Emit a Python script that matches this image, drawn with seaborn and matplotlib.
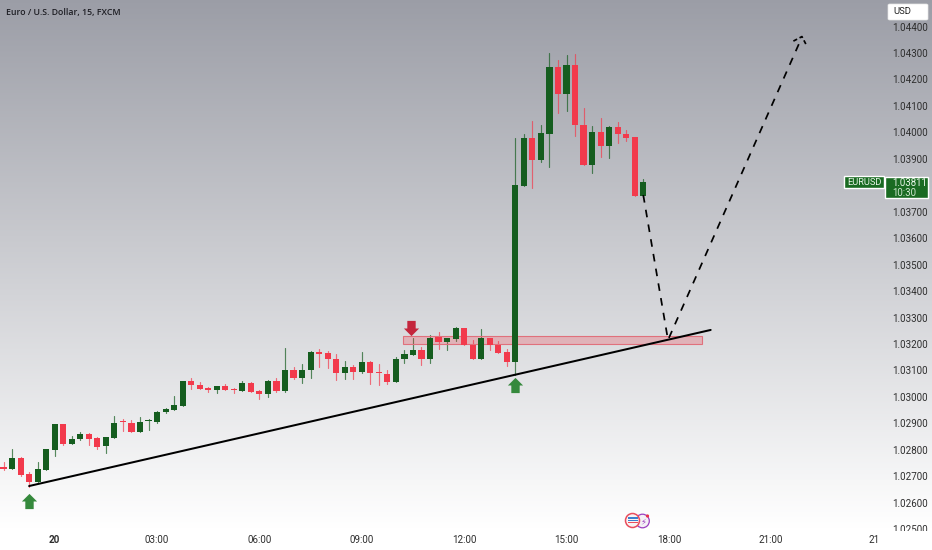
import numpy as np
import pandas as pd
import matplotlib
matplotlib.use("Agg")
import matplotlib.pyplot as plt
from matplotlib.path import Path
from matplotlib.patches import Rectangle, FancyBboxPatch, Circle
from matplotlib.transforms import Bbox
import seaborn as sns

W, H = 932, 550

title = "Euro / U.S. Dollar, 15, FXCM"
x_tick_pos = [0, 12, 24, 36, 48, 60, 72, 84, 96]
x_tick_labels = ["20", "03:00", "06:00", "09:00", "12:00", "15:00", "18:00", "21:00", "21"]
y_ticks = [1.025 + 0.001 * k for k in range(20)]

first_bar = -6
opens = [102736,102728,102770,102709,102677,102724,102799,102896,102823,102840,102861,102845,102813,102845,
         102910,102901,102868,102909,102904,102942,102952,102966,103059,103045,103033,103025,103041,103030,
         103024,103054,103022,103011,103061,103021,103102,103073,103101,103169,103165,103144,103089,103113,
         103094,103132,103093,103088,103056,103142,103158,103177,103144,103226,103209,103220,103259,103197,
         103144,103222,103197,103169,103132,103798,103978,103896,103995,104246,104145,104253,104028,103877,
         104001,103950,104020,103995,103981,103761]
highs = [102754,102802,102773,102716,102754,102803,102898,102898,102851,102868,102864,102850,102848,102928,
         102915,102913,102923,102916,102948,102958,103003,103060,103070,103055,103037,103041,103049,103035,
         103061,103056,103026,103064,103073,103184,103114,103123,103174,103181,103174,103162,103136,103120,
         103170,103134,103123,103102,103152,103176,103221,103187,103233,103244,103224,103263,103260,103215,
         103257,103224,103212,103182,103980,103995,104043,104028,104299,104274,104292,104296,104091,104025,
         104055,104024,104038,104009,103983,103822]
lows = [102724,102726,102701,102661,102677,102724,102778,102818,102822,102837,102818,102804,102789,102845,
        102871,102867,102867,102875,102903,102939,102950,102966,103030,103028,103020,103014,103026,103016,
        103022,103017,102993,103001,103020,103020,103067,103054,103073,103112,103108,103064,103068,103069,
        103092,103050,103046,103050,103055,103129,103157,103122,103129,103181,103177,103212,103195,103143,
        103143,103177,103166,103117,103083,103797,103791,103888,103870,104072,104082,103987,103875,103847,
        103908,103904,103959,103967,103759,103756]
closes = [102728,102770,102705,102677,102726,102803,102896,102822,102841,102860,102842,102812,102847,102902,
          102906,102868,102906,102912,102944,102954,102968,103059,103044,103030,103025,103040,103027,103025,
          103054,103019,103011,103061,103022,103102,103072,103102,103170,103162,103142,103089,103113,103094,
          103132,103089,103089,103056,103144,103161,103176,103144,103224,103209,103222,103259,103197,103144,
          103222,103197,103167,103132,103801,103978,103896,103996,104246,104145,104253,104027,103877,104001,
          103950,104020,103995,103980,103761,103811]

trend_x = [-3.0, 76.9]
trend_y = [1.02663, 1.03253]
path_x = [69.0, 71.9, 87.6]
path_y = [1.03763, 1.03215, 1.04360]
head_x = [86.6, 87.6, 88.2]
head_y = [1.04345, 1.04362, 1.04325]
zone_x = [40.8, 75.9]
zone_y = [1.03200, 1.03230]
up_x = [-3.0, 54.0]
up_y = [1.02605, 1.03045]
down_x = [41.8]
down_y = [1.03262]
last_price = "1.03811"
countdown = "10:30"

GREEN = "#155d1f"
RED = "#f23a4c"
LABEL_GREEN = "#1a6b22"
BG_TOP = "#9b9da6"
BG_BOTTOM = "#ffffff"

sns.set_theme(style="white")
plt.rcParams["font.family"] = ["Roboto", "DejaVu Sans"]

fig = plt.figure(figsize=(W / 100, H / 100), dpi=100)

# background gradient over the whole picture, as one-pixel bands
bg = fig.add_axes([0, 0, 1, 1], zorder=0)
bg.set_xlim(0, W)
bg.set_ylim(H, 0)
c_top = np.array(matplotlib.colors.to_rgb(BG_TOP))
c_bot = np.array(matplotlib.colors.to_rgb(BG_BOTTOM))
for row in range(H):
    f = min(row / 530, 1.0)
    bg.axhspan(row, row + 1, facecolor=tuple(c_top * (1 - f) + c_bot * f), edgecolor="none",
               linewidth=0, antialiased=False)
bg.axis("off")

ax = fig.add_axes([0, (H - 531) / H, 885 / W, 531 / H], zorder=1)
ax.patch.set_visible(False)

df = pd.DataFrame({"i": np.arange(len(opens)) + first_bar, "o": opens, "h": highs, "l": lows, "c": closes})
df[["o", "h", "l", "c"]] = df[["o", "h", "l", "c"]] / 1e5
df["up"] = df["c"] >= df["o"]
df["bot"] = df[["o", "c"]].min(axis=1)
df["size"] = (df["c"] - df["o"]).abs()

for up, col in [(True, GREEN), (False, RED)]:
    part = df[df["up"] == up]
    wick = pd.concat([part[["i", "h"]].rename(columns={"h": "p"}),
                      part[["i", "l"]].rename(columns={"l": "p"})])
    sns.lineplot(data=wick, x="i", y="p", units="i", estimator=None, color=col,
                 linewidth=0.85, alpha=0.7, legend=False, ax=ax, zorder=2)
    sns.barplot(x=part["i"].to_numpy(), y=part["size"].to_numpy(), bottom=part["bot"].to_numpy(),
                native_scale=True, width=0.72, color=col, saturation=1, errorbar=None,
                linewidth=0, ax=ax, zorder=3)

# support zone
ax.add_patch(Rectangle((zone_x[0], zone_y[0]), zone_x[1] - zone_x[0], zone_y[1] - zone_y[0],
                       facecolor="#f23645", alpha=0.25, edgecolor="none", zorder=2.5))
ax.add_patch(Rectangle((zone_x[0], zone_y[0]), zone_x[1] - zone_x[0], zone_y[1] - zone_y[0],
                       facecolor="none", edgecolor="#e0707c", linewidth=0.8, zorder=2.6))

# trend line and projected path
sns.lineplot(x=trend_x, y=trend_y, color="black", linewidth=1.45, ax=ax, zorder=5, legend=False)
sns.lineplot(x=path_x, y=path_y, sort=False, estimator=None, color="black", linewidth=1.25,
             linestyle=(0, (4.4, 4.2)), ax=ax, zorder=5, legend=False)
sns.lineplot(x=head_x, y=head_y, sort=False, estimator=None, color="black", linewidth=1.25,
             linestyle=(0, (2.4, 1.6)), ax=ax, zorder=5, legend=False)

# signal arrows
verts = [(-0.55, -1), (0.55, -1), (0.55, 0.0), (1, 0.0), (0, 1), (-1, 0.0), (-0.55, 0.0), (-0.55, -1)]
arrow_up = Path(verts, closed=True)
arrow_down = Path([(x, -y) for x, y in verts], closed=True)
sns.scatterplot(x=up_x, y=up_y, marker=arrow_up, s=120, color="#35893c", linewidth=0, ax=ax, zorder=6, legend=False)
sns.scatterplot(x=down_x, y=down_y, marker=arrow_down, s=120, color="#c4263d", linewidth=0, ax=ax, zorder=6, legend=False)

ax.set_xlim((0 - 54.7) / 8.53, (885 - 54.7) / 8.53)
ax.set_ylim(1.02493, 1.045003)
ax.set_xticks(x_tick_pos)
ax.set_xticklabels(x_tick_labels)
ax.set_yticks(y_ticks)
# the 1.03800 label sits behind the last-price tag, as in the reference
ax.set_yticklabels(["" if abs(v - 1.038) < 1e-6 else f"{v:.5f}" for v in y_ticks])
ax.yaxis.tick_right()
ax.set_xlabel("")
ax.set_ylabel("")
ax.tick_params(axis="both", length=0, labelsize=7.1, labelcolor="#2e2e2e")
ax.tick_params(axis="x", pad=3)
ax.tick_params(axis="y", pad=5)
ax.grid(False)
sns.despine(ax=ax, left=True, right=True, top=True, bottom=True)
for lab in ax.get_xticklabels():
    if lab.get_text() == "20":
        lab.set_fontweight("bold")
fig.canvas.draw()
clip = Bbox([[885, H - 531], [W, H]])
for lab in ax.get_yticklabels():
    lab.set_clip_box(clip)
    lab.set_clip_on(True)

def px(x, y):
    return x / W, 1 - y / H

# title
fig.text(*px(6, 12), title, fontsize=6.3, family=["Open Sans", "DejaVu Sans"], fontweight="semibold",
         color="#1e1e24", va="center", ha="left", zorder=9)

# currency button
fig.add_artist(FancyBboxPatch(px(888, 20), 40 / W, 16 / H, boxstyle="round,pad=0,rounding_size=0.002",
                              transform=fig.transFigure, facecolor="white", edgecolor="#e6e6e6", linewidth=0.5, zorder=8))
fig.text(*px(893, 12), "USD", fontsize=6.8, color="#222222", va="center", ha="left", zorder=9)

# price labels
fig.add_artist(Rectangle(px(844, 188), 40 / W, 12 / H, transform=fig.transFigure, facecolor=LABEL_GREEN, zorder=8))
fig.text(*px(864, 182.5), "EURUSD", fontsize=6.7, color="#e8f5e8", va="center", ha="center", zorder=9)
fig.add_artist(Rectangle(px(885, 198), 43 / W, 21 / H, transform=fig.transFigure, facecolor=LABEL_GREEN, zorder=8))
fig.text(*px(892, 182.5), last_price, fontsize=6.9, color="#e8f5e8", va="center", ha="left", zorder=9)
fig.text(*px(892, 193), countdown, fontsize=6.9, color="#cfe6cf", va="center", ha="left", zorder=9)

# event icons
ov = fig.add_axes([0, 0, 1, 1], zorder=7)
ov.set_xlim(0, W)
ov.set_ylim(H, 0)
ov.axis("off")
ov.add_patch(Circle((642.5, 521), 6.8, facecolor="#f4f0f6", edgecolor="#9b3fc0", linewidth=0.9))
ov.text(643, 521.5, "\u26a1", fontsize=6, color="#9b3fc0", ha="center", va="center", family=["DejaVu Sans"])
ov.add_patch(Circle((647.5, 516), 1.6, facecolor="#e8304a", edgecolor="none"))
ov.add_patch(Circle((632.5, 520.5), 7, facecolor="#f8f4f4", edgecolor="#ea4d5d", linewidth=1.1))
ov.add_patch(Rectangle((627.5, 517), 10, 2, facecolor="#3a7fd0", edgecolor="none"))
ov.add_patch(Rectangle((627.5, 519.5), 10, 1.5, facecolor="#3a7fd0", edgecolor="none"))
ov.add_patch(Rectangle((627.5, 522), 10, 1.4, facecolor="#ea4d5d", edgecolor="none"))

fig.savefig("out.png", dpi=100)
